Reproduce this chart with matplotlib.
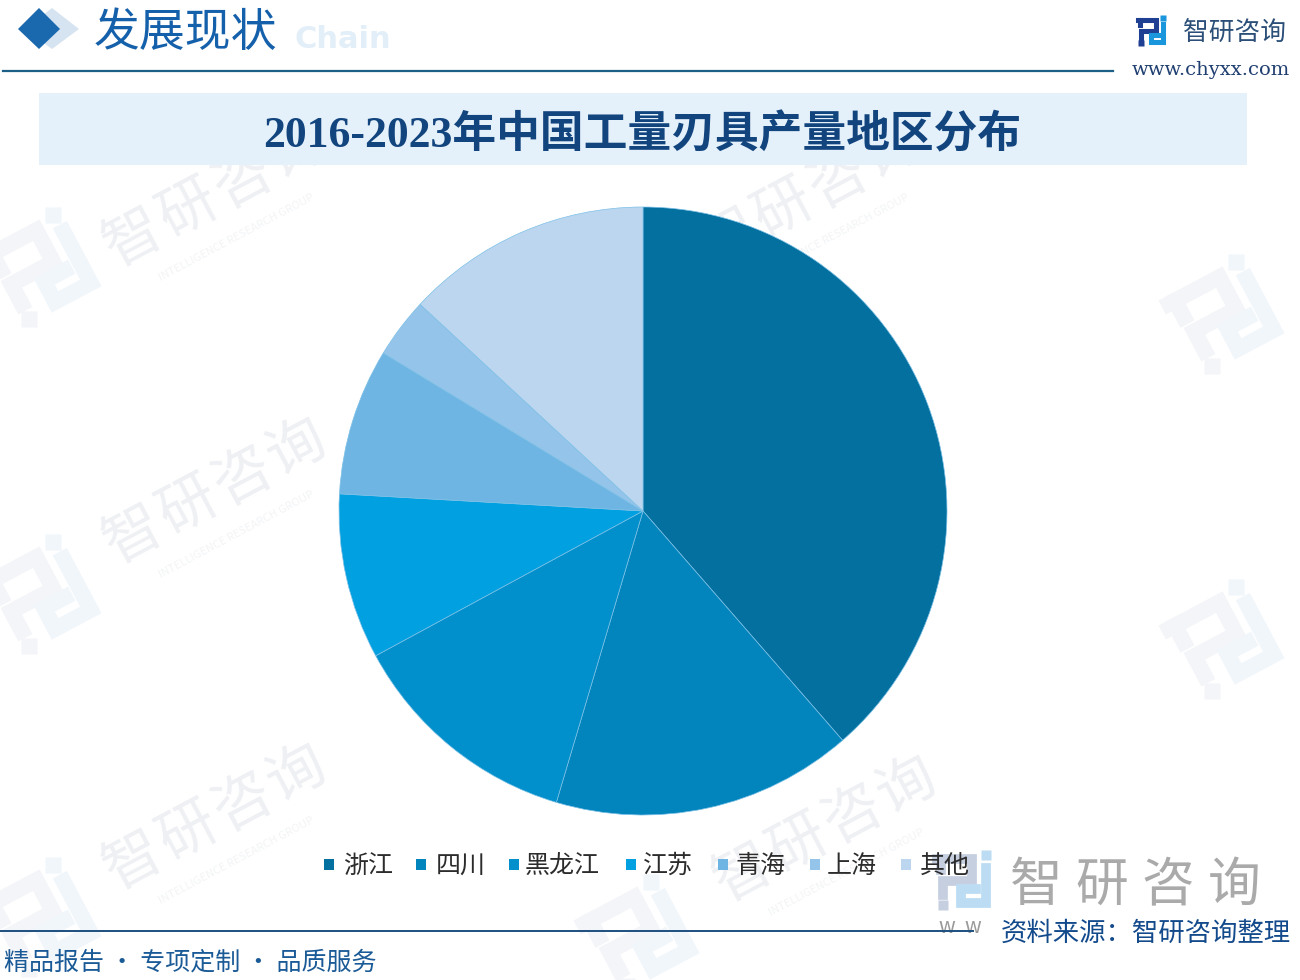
import matplotlib
matplotlib.use("Agg")
import matplotlib.pyplot as plt
from matplotlib.patches import Polygon, Rectangle
import numpy as np

plt.rcParams['font.family'] = ['Noto Sans CJK SC', 'DejaVu Sans']

regions = ['浙江', '四川', '黑龙江', '江苏', '青海', '上海', '其他']
shares = [38.6, 16.0, 12.5, 8.8, 7.8, 3.2, 13.1]
colors = ['#03709f', '#0285bd', '#0190cb', '#01a0e0', '#6fb5e4', '#95c4ea', '#bcd6f0']
legend_x = [329, 421, 514, 631, 723, 815, 906]
legend_text_x = [343, 436, 525, 643, 736, 827, 920]

title = '2016-2023年中国工量刃具产量地区分布'
section = '发展现状'
source = '资料来源：智研咨询整理'
footer = '精品报告 · 专项定制 · 品质服务'
brand = '智研咨询'
brand_en = 'INTELLIGENCE RESEARCH GROUP'
site = 'www.chyxx.com'

wm_brand_pos = [(215, 195), (215, 492), (215, 818), (810, 195), (825, 830)]
wm_logo_pos = [(42, 268), (42, 595), (42, 918), (1225, 315), (1225, 640), (640, 935)]

fig = plt.figure(figsize=(13, 9.8), dpi=100)
bg = fig.add_axes([0, 0, 1, 1])
bg.set_xlim(0, 1300)
bg.set_ylim(980, 0)
bg.axis('off')


def logo(ax, cx, cy, size, dark, light, angle=0, zorder=1):
    # strokes of the brand mark, in a unit box
    left = [(-1, -.82), (.29, -.82), (.29, 0), (-.79, 0), (-.79, .5)]
    stub = [(-.85, -.82), (-.85, -.4)]
    right = [(.82, -.5), (.82, .82), (-.1, .82), (-.1, .29), (.43, .29)]
    a = np.radians(angle)
    rot = np.array([[np.cos(a), np.sin(a)], [-np.sin(a), np.cos(a)]])
    lw = size * 0.26
    for s, col in ((left, dark), (stub, dark), (right, light)):
        p = (rot @ np.array(s).T).T * size + [cx, cy]
        ax.plot(p[:, 0], p[:, 1], color=col, lw=lw, solid_capstyle='projecting',
                solid_joinstyle='miter', zorder=zorder)
    for (dx, dy), col in (((-.79, .88), dark), ((.8, -.95), light)):
        p = rot @ np.array([dx, dy]) * size + [cx, cy]
        ax.plot(p[0], p[1], 's', color=col, ms=size * 0.27, mec='none', zorder=zorder)


def spaced(ax, cx, cy, text, step, angle=0, **kw):
    # one character at a time, the picture has wide tracking
    a = np.radians(angle)
    off = (np.arange(len(text)) - (len(text) - 1) / 2) * step
    for ch, d in zip(text, off):
        ax.text(cx + d * np.cos(a), cy - d * np.sin(a), ch, rotation=angle,
                ha='center', va='center', **kw)


# watermarks
for x, y in wm_brand_pos:
    spaced(bg, x, y, brand, 62, angle=28, fontsize=42, color='#eef0f3',
           fontweight='light', zorder=1)
    bg.text(x + 22, y + 42, brand_en, fontsize=8, color='#f2f4f6', rotation=28,
            ha='center', va='center', zorder=1)
for x, y in wm_logo_pos:
    logo(bg, x, y, 44, '#f4f5f8', '#f1f6fb', angle=28, zorder=1)
bg.text(295, 40, 'Chain', fontsize=22, color='#e2eef8', fontweight='bold',
        family='DejaVu Sans', ha='left', va='center', zorder=1)

# header
bg.add_patch(Polygon([(52, 8), (79, 29), (52, 49), (25, 29)], closed=True, fc='#d6e3f0', ec='none', zorder=2))
bg.add_patch(Polygon([(39, 8), (60, 29), (39, 49), (18, 29)], closed=True, fc='#1a68ad', ec='none', zorder=3))
bg.text(185, 33, section, fontsize=33, color='#1560aa', ha='center', va='center', zorder=4)
bg.plot([3, 1113], [71, 71], color='#1d6087', lw=1.6, zorder=3)
logo(bg, 1152, 31, 14, '#1f3f93', '#1a97dc', zorder=3)
bg.text(1235, 33, brand, fontsize=18.5, color='#2b4f78', ha='center', va='center', zorder=3)
bg.text(1211, 70, site, fontsize=14, color='#1f3f70', ha='center', va='center',
        family='DejaVu Serif', zorder=3)

# title band
bg.add_patch(Rectangle((39, 93), 1208, 72, fc='#e4f1fb', ec='none', zorder=2))
bg.text(642, 135, title, fontsize=31.5, color='#12447e', fontweight='bold', ha='center', va='center',
        family=['Liberation Serif', 'Noto Sans CJK SC'], zorder=3)

# pie, 304 px radius round (643, 511)
ax = fig.add_axes([(643 - 304) / 1300, 1 - (511 + 304) / 980, 608 / 1300, 608 / 980])
ax.patch.set_alpha(0)
ax.pie(shares, colors=colors, startangle=90, counterclock=False, radius=1,
       wedgeprops={'edgecolor': '#7cc0e6', 'linewidth': 0.5})
ax.set_xlim(-1, 1)
ax.set_ylim(-1, 1)

# legend drawn by hand to hold the uneven spacing
for name, col, mx, tx in zip(regions, colors, legend_x, legend_text_x):
    bg.add_patch(Rectangle((mx - 5, 859), 10, 11, fc=col, ec='none', zorder=4))
    bg.text(tx, 866, name, fontsize=18, color='#2c2c2c', ha='left', va='center', fontweight='light', zorder=4)

# lower right brand block
logo(bg, 964, 881, 27, '#c6cfe0', '#bcdcf3', zorder=2)
spaced(bg, 1135, 885, brand, 66, fontsize=38, color='#aaaaaa', fontweight='light', zorder=2)
bg.text(960, 927, 'w  w', fontsize=15, color='#9a9a9a', ha='center', va='center', zorder=2)

# footer
bg.plot([0, 973], [931, 931], color='#1d4f80', lw=1.4, zorder=3)
bg.text(1146, 933, source, fontsize=19, color='#134a8c', ha='center', va='center', zorder=4)
bg.text(190, 963, footer, fontsize=18, color='#1a5a96', ha='center', va='center', zorder=4)

fig.savefig('out.png', dpi=100)
